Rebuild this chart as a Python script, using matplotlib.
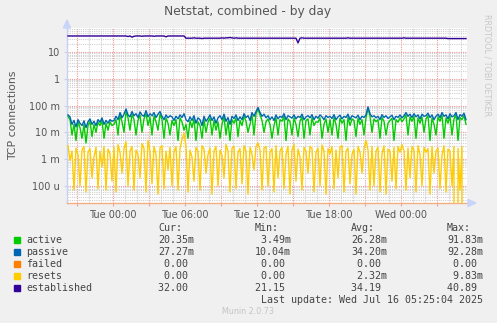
import numpy as np
import pandas as pd
import matplotlib
matplotlib.use("Agg")
import matplotlib.pyplot as plt
import matplotlib.dates as mdates
from matplotlib.patches import Polygon
from matplotlib.ticker import FixedLocator, FixedFormatter, NullFormatter

# ---------------- data ----------------
times = pd.date_range("2025-07-14 20:15", periods=200, freq="10min")

# values in milli-connections (one row per hour after the first row)
passive_m = [45, 38, 20, 28, 16, 30, 22, 18, 27, 15, 25, 32, 20, 26, 18, 30, 24, 35, 20, 28, 22, 30, 26,
             28, 40, 30, 55, 35, 48,
             75, 45, 38, 60, 42, 50,
             36, 58, 44, 40, 65, 38,
             50, 42, 55, 36, 48, 60,
             40, 30, 45, 35, 42, 38,
             28, 40, 32, 45, 36, 50,
             30, 25, 38, 28, 42, 22,
             35, 30, 18, 40, 26, 33,
             45, 28, 38, 22, 35, 42,
             30, 48, 26, 36, 20, 40,
             33, 45, 28, 38, 30, 50,
             36, 42, 28, 55, 40, 60,
             85, 55, 40, 48, 35, 42,
             30, 38, 28, 45, 32, 40,
             36, 50, 30, 42, 38, 34,
             45, 32, 40, 36, 48, 30,
             38, 42, 35, 46, 30, 40,
             34, 45, 38, 30, 42, 36,
             40, 33, 46, 30, 38, 44,
             32, 40, 36, 48, 30, 42,
             38, 35, 44, 30, 40, 36,
             45, 90, 50, 38, 42, 35,
             40, 30, 46, 36, 42, 33,
             38, 44, 30, 40, 36, 45,
             35, 42, 55, 40, 48, 36,
             50, 38, 45, 32, 48, 40,
             42, 52, 36, 45, 30, 40,
             48, 36, 55, 40, 45, 32,
             50, 38, 42, 55, 30, 46,
             40, 52, 30]

active_m = [40, 30, 8, 20, 5, 25, 15, 6, 20, 4, 18, 26, 7, 20, 10, 24, 18, 28, 6, 22, 12, 25, 18,
            20, 30, 8, 45, 25, 10,
            60, 35, 12, 48, 30, 8,
            28, 45, 10, 32, 50, 18,
            38, 8, 42, 25, 12, 48,
            30, 6, 35, 22, 8, 28,
            18, 30, 5, 35, 25, 12,
            20, 6, 28, 15, 32, 5,
            25, 18, 6, 30, 10, 24,
            35, 8, 28, 12, 25, 6,
            20, 38, 8, 26, 5, 30,
            22, 35, 7, 28, 18, 40,
            26, 10, 20, 45, 8, 50,
            75, 45, 28, 10, 25, 32,
            20, 6, 18, 35, 8, 30,
            26, 40, 5, 32, 25, 8,
            35, 20, 7, 26, 38, 6,
            28, 32, 8, 36, 18, 25,
            24, 35, 6, 20, 32, 10,
            30, 8, 36, 20, 6, 34,
            22, 30, 5, 38, 18, 32,
            28, 7, 34, 20, 30, 8,
            35, 80, 40, 10, 32, 25,
            30, 6, 36, 26, 8, 22,
            28, 34, 5, 30, 24, 35,
            25, 32, 45, 8, 38, 26,
            40, 6, 35, 22, 38, 10,
            32, 42, 5, 35, 20, 8,
            38, 26, 45, 6, 35, 22,
            40, 8, 32, 45, 5, 36,
            30, 42, 20]

resets_m = [3.2, 0.9, 2.0, 0.07, 2.6, 1.5, 0.1, 2.2, 3.0, 0.06, 1.8, 2.5, 0.2, 1.2, 2.8, 0.08, 2.0, 0.5,
            3.0, 0.07, 2.4, 1.6, 0.15,
            2.8, 0.06, 3.5, 1.8, 0.3, 2.5,
            4.5, 0.1, 2.0, 3.0, 0.07, 2.2,
            1.5, 0.2, 3.8, 2.5, 0.06, 5.0,
            2.0, 0.12, 3.0, 1.5, 0.05, 2.6,
            3.2, 0.08, 2.0, 0.4, 2.8, 0.1,
            1.8, 3.0, 0.07, 2.5, 5.5, 9.5,
            3.0, 0.06, 2.2, 1.2, 0.15, 2.8,
            2.0, 0.07, 3.2, 2.4, 0.3, 1.5,
            2.6, 0.05, 2.0, 3.0, 0.1, 2.2,
            1.4, 0.2, 3.5, 2.0, 0.06, 2.6,
            3.0, 0.08, 1.8, 2.5, 0.12, 3.2,
            2.0, 0.05, 2.8, 1.5, 0.4, 3.0,
            4.0, 2.2, 0.07, 2.6, 3.0, 0.1,
            1.8, 2.5, 0.06, 3.2, 0.2, 2.0,
            2.8, 0.08, 1.5, 3.0, 0.05, 2.2,
            3.5, 0.15, 2.4, 1.2, 0.07, 2.8,
            2.0, 0.3, 3.0, 2.5, 0.06, 1.8,
            2.6, 0.1, 3.4, 2.0, 0.05, 2.5,
            1.6, 3.0, 0.08, 2.2, 0.2, 2.8,
            3.2, 0.06, 2.0, 2.6, 0.12, 1.5,
            2.4, 0.05, 3.0, 1.8, 0.3, 2.6,
            5.0, 2.2, 0.07, 3.0, 0.1, 2.0,
            2.8, 0.06, 1.6, 3.2, 0.05, 2.4,
            2.0, 0.15, 2.8, 0.08, 3.0, 1.8,
            3.5, 2.0, 0.07, 2.6, 0.2, 3.0,
            2.2, 0.06, 3.2, 1.5, 0.1, 2.8,
            1.8, 2.5, 0.05, 3.0, 0.3, 2.0,
            2.6, 0.08, 1.4, 3.2, 0.06, 2.4,
            2.0, 0.1, 3.0, 0, 2.5, 0.07,
            3.0, 0, 0]

established = ([40] * 29 +
               [40, 38, 40, 36, 39, 40, 40, 40, 39, 40, 40, 40, 40, 40, 39,
                40, 40, 40, 40, 40, 37, 40, 40, 40, 40, 40, 40, 40, 40, 40] +
               [33, 33, 33, 33, 34, 33, 33, 33, 32, 33] + [33] * 8 +
               [34, 33, 34, 34, 35, 34, 33, 34] + [33] * 30 +
               [22] +
               [33, 34, 33, 33] + [33] * 20 + [34, 33, 33] + [33] * 25 + [34, 33] +
               [33] * 20 + [32] * 10)

series_names = ["active", "passive", "failed", "resets", "established"]
series_colors = ["#00CC00", "#0066B3", "#FF8000", "#FFCC00", "#330099"]
cur_vals = ["20.35m", "27.27m", " 0.00 ", " 0.00 ", "32.00 "]
min_vals = [" 3.49m", "10.04m", " 0.00 ", " 0.00 ", "21.15 "]
avg_vals = ["26.28m", "34.20m", " 0.00 ", " 2.32m", "34.19 "]
max_vals = ["91.83m", "92.28m", " 0.00 ", " 9.83m", "40.89 "]

y_ticks = [1e-4, 1e-3, 1e-2, 1e-1, 1, 10]
y_labels = ["100 u", "1 m", "10 m", "100 m", "1", "10"]

assert len(passive_m) == len(active_m) == len(resets_m) == len(established) == len(times)

# ---------------- figure ----------------
W, H = 497, 323
fig = plt.figure(figsize=(W / 100, H / 100), dpi=100, facecolor="#F0F0F0")
L, R, T, B = 67, 467, 28, 203
ax = fig.add_axes([L / W, 1 - B / H, (R - L) / W, (B - T) / H])
ax.set_facecolor("white")

act = np.array(active_m) * 1e-3
pas = np.array(passive_m) * 1e-3
res = np.array(resets_m) * 1e-3

ax.set_yscale("log", nonpositive="clip")
lw = 1.0
ax.plot(times, act, color=series_colors[0], lw=lw, zorder=3)
ax.plot(times, pas, color=series_colors[1], lw=lw, zorder=4)
ax.plot(times, res, color=series_colors[3], lw=lw, zorder=5)
ax.plot(times, established, color=series_colors[4], lw=lw, zorder=6)

ax.set_ylim(10 ** -4.637, 10 ** 1.899)
ax.set_xlim(pd.Timestamp("2025-07-14 20:10"), pd.Timestamp("2025-07-16 05:30"))

# y ticks / grid
ax.yaxis.set_major_locator(FixedLocator(y_ticks))
ax.yaxis.set_major_formatter(FixedFormatter(y_labels))
minor_y = [m * 10.0 ** e for e in range(-5, 2) for m in range(2, 10)]
ax.yaxis.set_minor_locator(FixedLocator(minor_y))
ax.yaxis.set_minor_formatter(NullFormatter())

# x ticks / grid
ax.xaxis.set_major_locator(mdates.HourLocator(byhour=range(0, 24, 3)))
def fmt(x, pos):
    d = mdates.num2date(x)
    return d.strftime("%a %H:%M") if d.hour % 6 == 0 else ""
ax.xaxis.set_major_formatter(plt.FuncFormatter(fmt))
ax.xaxis.set_minor_locator(mdates.HourLocator())

dot = (0, (1, 1))
ax.grid(which="minor", color="#cfcfcf", linestyle=dot, lw=0.8, zorder=1)
ax.grid(which="major", color="#f09a9a", linestyle=dot, lw=0.8, zorder=2)
ax.set_axisbelow(True)

ax.tick_params(axis="both", which="major", labelsize=7, labelcolor="#555555",
               color="#f0a0a0", length=2, width=0.8, pad=3)
ax.tick_params(axis="both", which="minor", length=0)
ax.tick_params(axis="y", which="major", color="#c8d0f0")

for s in ["top", "right"]:
    ax.spines[s].set_visible(False)
ax.spines["left"].set_color("#c8d0f4")
ax.spines["left"].set_linewidth(1.0)
ax.spines["bottom"].set_color("#f4ae82")
ax.spines["bottom"].set_linewidth(1.0)

ax.set_ylabel("TCP connections", fontsize=7.8, color="#555555")
ax.yaxis.set_label_coords(-49 / (R - L), 0.5)

def fx(x):
    return x / W

def fy(y):
    return 1 - y / H

# arrows
fig.patches.append(Polygon([[fx(63.5), fy(28)], [fx(70.5), fy(28)], [fx(67), fy(20)]],
                           closed=True, transform=fig.transFigure, color="#c8d4f8", zorder=10))
fig.patches.append(Polygon([[fx(468), fy(199.5)], [fx(468), fy(206.5)], [fx(476), fy(203)]],
                           closed=True, transform=fig.transFigure, color="#c8d4f8", zorder=10))

# title and side text
fig.text(fx(248), fy(11), "Netstat, combined - by day", ha="center", va="center",
         fontsize=8.8, color="#555555")
fig.text(fx(487), fy(14), "RRDTOOL / TOBI OETIKER", ha="center", va="top",
         rotation=-90, fontsize=5.8, color="#c8c8c8")

# legend table
mono = "DejaVu Sans Mono"
fs = 7.2
tc = "#444444"
col_x = [158, 255, 351, 447]
for x, h in zip(col_x, ["Cur:", "Min:", "Avg:", "Max:"]):
    fig.text(fx(x), fy(228), h, family=mono, fontsize=fs, color=tc, ha="left", va="center")
row_y = [240, 252, 264, 276, 288]
for i, name in enumerate(series_names):
    y = row_y[i]
    fig.patches.append(plt.Rectangle((fx(14), fy(y + 3)), 6 / W, 6 / H,
                                     transform=fig.transFigure, color=series_colors[i]))
    fig.text(fx(26), fy(y), name, family=mono, fontsize=fs, color=tc, ha="left", va="center")
    for x, v in zip(col_x, [cur_vals[i], min_vals[i], avg_vals[i], max_vals[i]]):
        fig.text(fx(x), fy(y), v, family=mono, fontsize=fs, color=tc, ha="left", va="center")

fig.text(fx(483), fy(300), "Last update: Wed Jul 16 05:25:04 2025", family=mono,
         fontsize=fs, color=tc, ha="right", va="center")
fig.text(fx(248), fy(312), "Munin 2.0.73", fontsize=5.8, color="#c4c4c4",
         ha="center", va="center")

fig.savefig("out.png", dpi=100, facecolor=fig.get_facecolor())
